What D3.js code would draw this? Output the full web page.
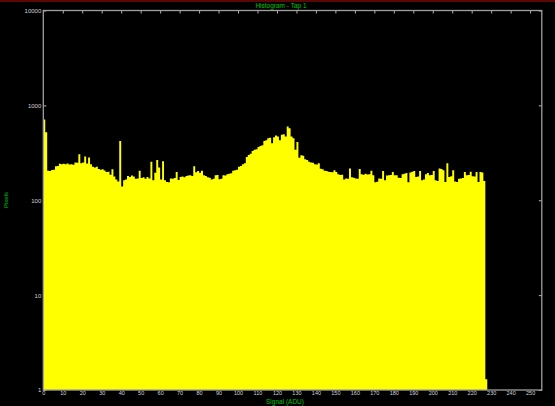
<!DOCTYPE html>
<html>
<head>
<meta charset="utf-8">
<script src="https://cdn.jsdelivr.net/npm/d3@7"></script>
<style>
  html, body { margin: 0; padding: 0; background: #000; overflow: hidden; }
  text { font-family: "Liberation Sans", Arial, sans-serif; }
</style>
</head>
<body>
<svg id="chart" width="555" height="406"></svg>
<script>
// Pixel counts per 1-ADU signal bin, starting at bin 0
const counts = [
  710, 520, 205, 203, 208, 210, 228, 230, 242, 240,
  243, 240, 244, 238, 240, 236, 250, 248, 305, 245,
  250, 290, 244, 282, 240, 226, 222, 225, 213, 210,
  212, 206, 198, 200, 186, 212, 178, 165, 158, 420,
  140, 162, 165, 180, 176, 182, 178, 168, 170, 205,
  172, 175, 168, 176, 170, 255, 162, 195, 265, 222,
  165, 258, 162, 156, 155, 170, 168, 172, 198, 163,
  176, 178, 175, 180, 182, 184, 180, 228, 197, 203,
  195, 204, 183, 180, 175, 173, 165, 168, 183, 185,
  166, 168, 184, 182, 188, 190, 192, 205, 207, 210,
  225, 230, 240, 245, 285, 300, 310, 330, 340, 345,
  365, 372, 380, 420, 430, 450, 455, 400, 460, 480,
  470, 430, 490, 495, 470, 600, 575, 470, 450, 340,
  410, 280, 298, 295, 270, 265, 255, 250, 248, 240,
  238, 245, 215, 212, 205, 203, 200, 199, 197, 207,
  199, 188, 185, 186, 165, 170, 168, 216, 175, 173,
  170, 169, 214, 188, 186, 190, 187, 188, 205, 184,
  155, 157, 170, 168, 203, 162, 182, 183, 185, 199,
  184, 183, 173, 172, 188, 190, 194, 155, 196, 200,
  203, 176, 178, 203, 162, 165, 188, 194, 183, 185,
  203, 162, 160, 216, 214, 207, 156, 245, 176, 179,
  207, 158, 156, 169, 170, 172, 199, 183, 185, 200,
  179, 178, 199, 156, 199, 196, 160, 1.3
];

const xTickValues = d3.range(0, 251, 10);
const yTickValues = [1, 10, 100, 1000, 10000];
const chartTitle = "Histogram - Tap 1";
const xAxisTitle = "Signal (ADU)";
const yAxisTitle = "Pixels";

const svg = d3.select("#chart");

const x = d3.scaleLinear().domain([0, 256]).range([43.3, 541.8]);
const y = d3.scaleLog().domain([1, 10000]).range([390, 10.5]);

svg.append("rect").attr("width", 555).attr("height", 406).attr("fill", "#000");
svg.append("rect").attr("x", 0).attr("y", 0).attr("width", 555).attr("height", 2)
  .attr("fill", "#5c0606");

const tickColor = "#b4b4b4";
const labelColor = "#d0d4dc";

// top edge: inward ticks only
const topAxis = svg.append("g")
  .attr("transform", `translate(0,${y(10000)})`)
  .call(d3.axisBottom(x).tickValues(xTickValues.filter(v => v > 0)).tickSize(3).tickFormat(""));

// right edge: inward decade ticks
const rightAxis = svg.append("g")
  .attr("transform", `translate(${x(256)},0)`)
  .call(d3.axisRight(y).tickValues(yTickValues).tickSize(-3).tickFormat(""));

// bottom axis labels
const bottomAxis = svg.append("g")
  .attr("transform", `translate(0,${y(1)})`)
  .call(d3.axisBottom(x).tickValues(xTickValues).tickSize(0).tickPadding(1.5)
    .tickFormat(d3.format("d")));

// left axis labels with inward ticks
const leftAxis = svg.append("g")
  .attr("transform", `translate(${x(0)},0)`)
  .call(d3.axisLeft(y).tickValues(yTickValues).tickSize(-3).tickPadding(2)
    .tickFormat(d3.format("d")));

[topAxis, rightAxis, bottomAxis, leftAxis].forEach(g => {
  g.select(".domain").remove();
  g.selectAll(".tick line").attr("stroke", tickColor).attr("stroke-width", 1);
  g.selectAll(".tick text").attr("fill", labelColor).attr("font-size", 5.5);
});
leftAxis.selectAll(".tick text").attr("font-size", 6);

// histogram drawn as one stepped area (one step per bin)
const steps = counts.map((c, i) => ({ bin: i, count: c }));
steps.push({ bin: counts.length, count: counts[counts.length - 1] });

const area = d3.area()
  .curve(d3.curveStepAfter)
  .x(d => x(d.bin))
  .y0(y(1))
  .y1(d => y(d.count));

svg.append("path")
  .datum(steps)
  .attr("d", area)
  .attr("fill", "#ffff00");

// plot frame
svg.append("rect")
  .attr("x", x(0)).attr("y", y(10000))
  .attr("width", x(256) - x(0)).attr("height", y(1) - y(10000))
  .attr("fill", "none").attr("stroke", "#a0a0a0").attr("stroke-width", 1.3);

// titles
svg.append("text")
  .attr("x", 281).attr("y", 6).attr("dy", "0.35em")
  .attr("text-anchor", "middle").attr("font-size", 6.5)
  .attr("fill", "#00c400").text(chartTitle);

svg.append("text")
  .attr("x", 285).attr("y", 402).attr("dy", "0.35em")
  .attr("text-anchor", "middle").attr("font-size", 6.5)
  .attr("fill", "#00c400").text(xAxisTitle);

svg.append("text")
  .attr("transform", "translate(5.5,200) rotate(-90)")
  .attr("dy", "0.35em")
  .attr("text-anchor", "middle").attr("font-size", 6)
  .attr("fill", "#00c400").text(yAxisTitle);
</script>
</body>
</html>
